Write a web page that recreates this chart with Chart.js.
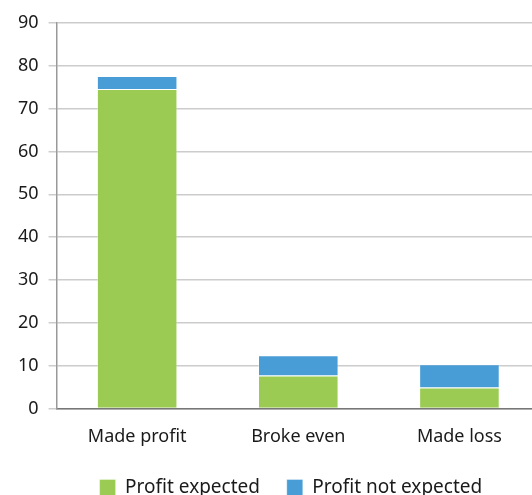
<!DOCTYPE html>
<html><head><meta charset="utf-8">
<script src="https://cdn.jsdelivr.net/npm/chart.js@4"></script>
<style>
html,body{margin:0;padding:0;background:#fff;overflow:hidden;}
#wrap{width:540px;height:495px;position:relative;}
</style></head>
<body>
<div id="wrap"><canvas id="c"></canvas></div>
<script>
const categories = ["Made profit", "Broke even", "Made loss"];
const profitExpected = [74.6, 7.7, 4.9];
const profitNotExpected = [3.0, 4.7, 5.4];
const seriesNames = ["Profit expected", "Profit not expected"];

const FONT = "'Noto Sans', sans-serif";
new Chart(document.getElementById('c'), {
  type: 'bar',
  data: {
    labels: categories,
    datasets: [
      {label: seriesNames[0], data: profitExpected, backgroundColor: '#9BCB53', borderColor: 'rgba(255,255,255,0.35)', borderWidth: 1, barPercentage: 0.5, categoryPercentage: 1},
      {label: seriesNames[1], data: profitNotExpected, backgroundColor: '#489DD6', borderColor: 'rgba(255,255,255,0.35)', borderWidth: 1, barPercentage: 0.5, categoryPercentage: 1}
    ]
  },
  options: {
    responsive: true, maintainAspectRatio: false, animation: false,
    layout: {padding: {top: 23, left: 8, right: 0, bottom: -12}},
    plugins: {
      legend: {position: 'bottom', fullSize: false,
        labels: {boxWidth: 16, boxHeight: 16, padding: 12, color: '#1a1a1a', font: {family: FONT, size: 19},
          generateLabels(chart) {
            const items = Chart.defaults.plugins.legend.labels.generateLabels(chart);
            items.forEach(it => { it.text = it.text + '\u00A0\u00A0\u00A0'; });
            return items;
          }}},
      tooltip: {enabled: false}
    },
    scales: {
      x: {stacked: true,
        grid: {display: false, drawTicks: false},
        border: {color: '#777', width: 1.5},
        ticks: {color: '#1a1a1a', padding: 18, font: {family: FONT, size: 18}}},
      y: {stacked: true, min: 0, max: 90,
        grid: {color: '#ccc', lineWidth: 1.5, tickLength: 8, tickColor: '#ccc'},
        border: {color: '#999', width: 1.5},
        ticks: {stepSize: 10, color: '#1a1a1a', padding: 10, font: {family: FONT, size: 18}}}
    }
  }
});
</script>
</body></html>
